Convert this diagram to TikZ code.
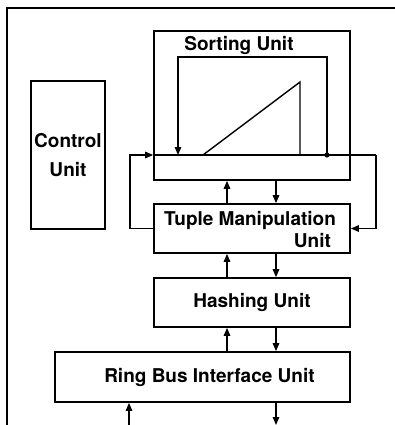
\documentclass[tikz,border=0pt]{standalone}
\usepackage{fontspec}
\setmainfont{TeX Gyre Heros}
\usetikzlibrary{positioning,arrows.meta}

\tikzset{
  unit/.style={draw, line width=1.7pt, inner sep=0pt, font=\fontsize{19}{25}\selectfont\bfseries},
  wire/.style={line width=1.4pt},
  arr/.style={wire, -{Triangle[length=8pt,width=6.5pt]}}
}

\begin{document}
\begin{tikzpicture}[x=1pt, y=-1pt]
\useasboundingbox (0,0) rectangle (395,425);

\def\xu{227}
\def\xd{276}
\def\xl{130}
\def\xr{376}
\def\yb{155}

% frame
\draw[line width=1.5pt] (7,425) -- (7,8) -- (395,8);

\node[unit, minimum width=74pt, minimum height=148pt, align=center] (ctrl) at (68,155) {Control\\[4pt]Unit};
\node[unit, minimum width=196pt, minimum height=149pt] (sort) at (252,105.5) {};
\node[unit, minimum width=196pt, minimum height=49pt] (tuple) at (252,228.5) {};
\node[unit, minimum width=196pt, minimum height=49pt] (hash) at (252,302.5) {Hashing Unit};
\node[unit, minimum width=295pt, minimum height=50pt] (ring) at (202.5,377) {\hspace{14pt}Ring Bus Interface Unit};

\node[font=\fontsize{19}{25}\selectfont\bfseries, inner sep=0pt] (sortlbl) at (239,45) {Sorting Unit};
\node[font=\fontsize{19}{22}\selectfont\bfseries, inner sep=0pt, align=right] (tuplelbl) at (250,229.5) {Tuple Manipulation\\\hspace*{0pt}Unit\hspace*{5pt}};

% bus inside the sorting unit
\coordinate (busL) at (\xl,\yb);
\coordinate (busR) at (\xr,\yb);
\coordinate (tap) at (327,\yb);
\coordinate (loopR) at (327,57);
\coordinate (loopL) at (178,57);
\coordinate (ta) at (203,\yb);
\coordinate (tb) at (300,82);
\coordinate (tc) at (300,\yb);

\draw[arr] (tuple.west) -| (busL) -- (sort.west |- busL);
\draw[wire] (sort.west |- busL) -- (busR);
\draw[arr] (busR) |- (tuple.east);
\fill (tap) circle (2.6pt);
\draw[arr] (tap) -- (loopR) -- (loopL) -- (loopL |- busL);
\draw[wire, line join=miter] (ta) -- (tb) -- (tc);

% links between units
\draw[arr] (\xu,0 |- tuple.north) -- (\xu,0 |- sort.south);
\draw[arr] (\xd,0 |- sort.south) -- (\xd,0 |- tuple.north);
\draw[arr] (\xu,0 |- hash.north) -- (\xu,0 |- tuple.south);
\draw[arr] (\xd,0 |- tuple.south) -- (\xd,0 |- hash.north);
\draw[arr] (\xu,0 |- ring.north) -- (\xu,0 |- hash.south);
\draw[arr] (\xd,0 |- hash.south) -- (\xd,0 |- ring.north);

\coordinate (inp) at (129,425);
\coordinate (outp) at (\xd,425);
\draw[arr] (inp) -- (inp |- ring.south);
\draw[arr] (outp |- ring.south) -- (outp);
\end{tikzpicture}
\end{document}
